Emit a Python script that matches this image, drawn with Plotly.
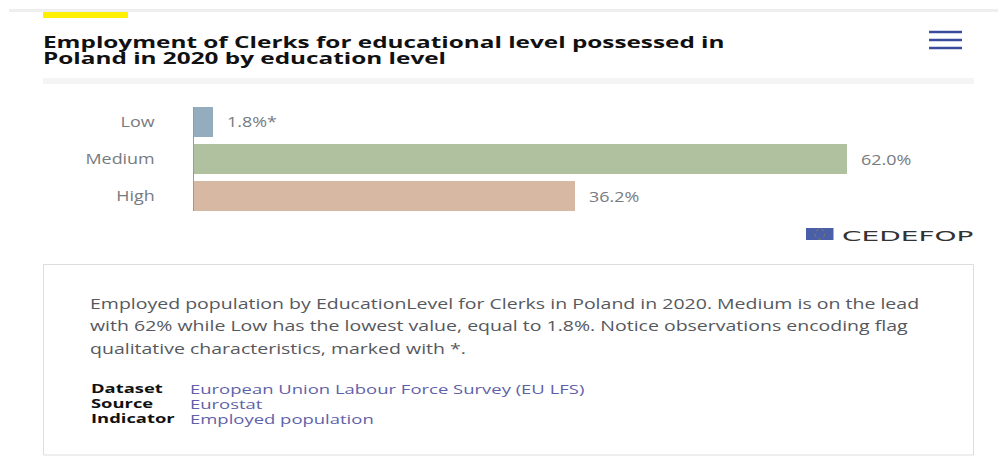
import plotly.graph_objects as go

W, H = 998, 470

# Chart data
levels = ["Low", "Medium", "High"]
shares = [1.8, 62.0, 36.2]
flags = ["*", "", ""]
bar_colors = ["#93adbf", "#b0c1a0", "#d7b9a3"]

# Page text
title_lines = ["Employment of Clerks for educational level possessed in",
               "Poland in 2020 by education level"]
summary_lines = [
    "Employed population by EducationLevel for Clerks in Poland in 2020. Medium is on the lead",
    "with 62% while Low has the lowest value, equal to 1.8%. Notice observations encoding flag",
    "qualitative characteristics, marked with *.",
]
meta_keys = ["Dataset", "Source", "Indicator"]
meta_values = ["European Union Labour Force Survey (EU LFS)", "Eurostat", "Employed population"]

FONT = "Open Sans"
TEXT_GREY = "#777b80"


def px(x):
    return x / W


def py(y):
    return 1 - y / H


def rect(x0, y0, x1, y1, fill, line=None):
    return dict(type="rect", xref="paper", yref="paper", layer="below",
                x0=px(x0), x1=px(x1), y0=py(y0), y1=py(y1), fillcolor=fill,
                line=dict(color=line or "rgba(0,0,0,0)", width=1 if line else 0))


def label(x, y, text, size, color, weight="normal", family=FONT):
    return dict(xref="paper", yref="paper", x=px(x - 2), y=py(y), text=text, showarrow=False,
                xanchor="left", yanchor="middle", align="left",
                font=dict(family=family, size=size, color=color, weight=weight))


fig = go.Figure(go.Bar(
    x=shares, y=levels, orientation="h", width=30 / 37,
    marker=dict(color=bar_colors, line=dict(width=0)),
    hoverinfo="skip", showlegend=False,
))

shapes = [
    rect(9, 9, 998, 12, "#eeeeee"),
    rect(43, 12, 128, 18, "#ffef00"),
    rect(43, 78, 974, 84, "#f4f4f4"),
    rect(43.5, 264.5, 973.5, 455, "#ffffff", "#dddddd"),
    rect(806, 228, 833.5, 240, "#4a5fa8"),
    dict(type="circle", xref="paper", yref="paper", x0=px(815), x1=px(824.5), y0=py(239), y1=py(229),
         line=dict(color="#80805f", width=1, dash="dot")),
]
for y in (32, 40, 48):
    shapes.append(rect(929, y - 1.2, 962, y + 1.2, "#3a4c9c"))

annotations = []
for y, text in zip((42, 58.5), title_lines):
    annotations.append(label(43, y, text, 16, "#111111", "bold"))
for y, text in zip((302.5, 325, 347.5), summary_lines):
    annotations.append(label(90, y, text, 15, "#55595e"))
for y, key, value in zip((388.5, 403.5, 418.5), meta_keys, meta_values):
    annotations.append(label(91, y, key, 12.5, "#111111", "bold"))
    annotations.append(label(190, y, value, 13, "#5f62a8"))

# Value labels sit just past the end of each bar
for level, share, flag in zip(levels, shares, flags):
    annotations.append(dict(x=share, y=level, xref="x", yref="y", text=f"{share:.1f}%{flag}",
                            showarrow=False, xanchor="left", yanchor="middle", xshift=12.5,
                            font=dict(family=FONT, size=13.9, color=TEXT_GREY)))

# Wordmark beside the flag
annotations.append(label(842, 235.5, "CEDEFOP", 14.5, "#333333", family="DejaVu Sans"))

fig.update_layout(
    width=W, height=H, margin=dict(l=0, r=0, t=0, b=0),
    paper_bgcolor="white", plot_bgcolor="white",
    shapes=shapes, annotations=annotations, bargap=0,
    xaxis=dict(domain=[px(193.5), px(974)], range=[0, (974 - 193.5) / (653.3 / 62.0)],
               visible=False, fixedrange=True),
    yaxis=dict(domain=[py(211), py(107)], range=[2.405, -0.405],
               categoryorder="array", categoryarray=levels,
               showline=True, linecolor="#9a9a9a", linewidth=1, showgrid=False, zeroline=False,
               ticks="outside", ticklen=35, tickcolor="rgba(0,0,0,0)", fixedrange=True,
               tickfont=dict(family=FONT, size=13.9, color=TEXT_GREY)),
)

# The page's type runs wide, so text is widened per font size, keeping its anchored edge in place.
WIDEN = """
var widen = {'16': 1.52, '15': 1.3, '12.5': 1.47, '13': 1.42, '13.9': 1.29, '14.5': 1.93};
document.querySelectorAll('.annotation-text, .ytick text').forEach(function (t) {
  var k = widen[String(parseFloat(t.style.fontSize))] || 1;
  var isTick = !t.classList.contains('annotation-text');
  var a = t.getBBox();
  t.setAttribute('lengthAdjust', 'spacingAndGlyphs');
  t.setAttribute('textLength', t.getComputedTextLength() * k);
  var b = t.getBBox();
  var dx = isTick ? (a.x + a.width) - (b.x + b.width) : a.x - b.x;
  t.setAttribute('x', parseFloat(t.getAttribute('x')) + dx);
});
"""

fig.write_html("out.html", config=dict(displayModeBar=False), post_script=WIDEN)
